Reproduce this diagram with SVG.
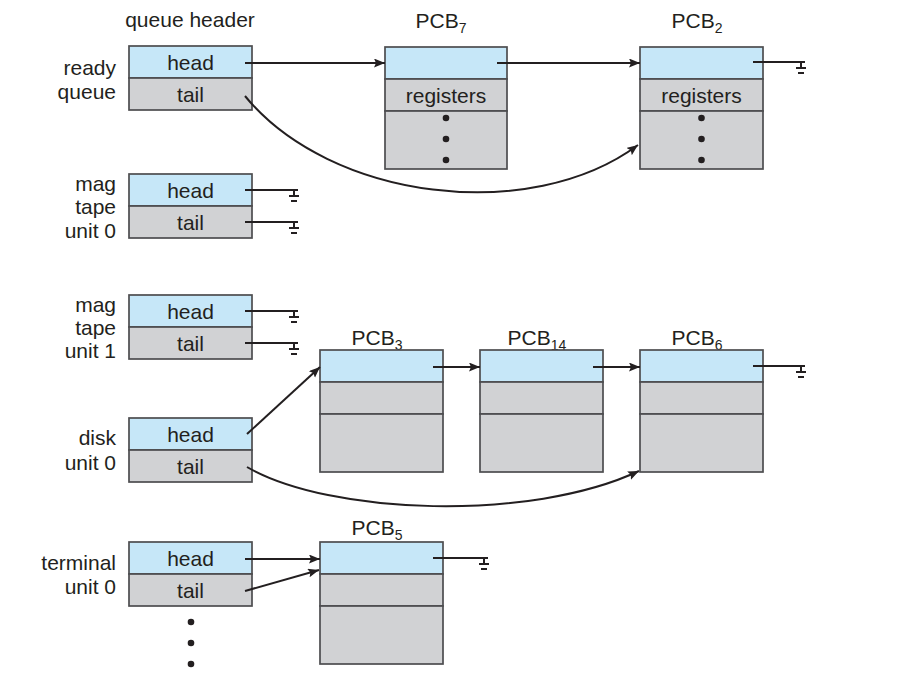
<svg xmlns="http://www.w3.org/2000/svg" xmlns:xlink="http://www.w3.org/1999/xlink" width="907" height="682" viewBox="0 0 907 682">
  <style>
    .txt { font-family: "Liberation Sans", Arial, sans-serif; font-size: 21px; fill: #231f20; }
    .lbl { text-anchor: end; }
    .mid { text-anchor: middle; }
    .sub { font-size: 14px; }
    .blue { fill: #c6e7f8; stroke: #4d4d4f; stroke-width: 1.7; }
    .gray { fill: #d1d2d4; stroke: #4d4d4f; stroke-width: 1.7; }
    .wire { fill: none; stroke: #231f20; stroke-width: 2; }
    .arrow { fill: none; stroke: #231f20; stroke-width: 2; marker-end: url(#ah); }
    .gnd { fill: none; stroke: #231f20; stroke-width: 2; }
    .dot { fill: #231f20; }
  </style>
  <defs>
    <marker id="ah" markerUnits="userSpaceOnUse" markerWidth="12" markerHeight="10" refX="11" refY="4.5" orient="auto">
      <path d="M0,0 L11,4.5 L0,9 L2,4.5 z" fill="#231f20"/>
    </marker>
    <!-- ground terminator: origin is where the wire turns down -->
    <g id="ground" class="gnd">
      <path d="M0,0 v6 M-5,6 h10 M-3,11 h6"/>
    </g>
  </defs>

  <rect width="907" height="682" fill="#ffffff"/>

  <text class="txt mid" x="190" y="27">queue header</text>

  <!-- queue headers -->
  <g id="ready-queue">
    <rect class="blue" x="129" y="46" width="123" height="32"/>
    <rect class="gray" x="129" y="78" width="123" height="32"/>
    <text class="txt mid" x="190.5" y="70">head</text>
    <text class="txt mid" x="190.5" y="102">tail</text>
    <text class="txt lbl" x="116" y="75">ready</text>
    <text class="txt lbl" x="116" y="99">queue</text>
  </g>

  <g id="mag-tape-0">
    <rect class="blue" x="129" y="174" width="123" height="32"/>
    <rect class="gray" x="129" y="206" width="123" height="32"/>
    <text class="txt mid" x="190.5" y="198">head</text>
    <text class="txt mid" x="190.5" y="230">tail</text>
    <text class="txt lbl" x="116" y="191">mag</text>
    <text class="txt lbl" x="116" y="214">tape</text>
    <text class="txt lbl" x="116" y="238">unit 0</text>
  </g>

  <g id="mag-tape-1">
    <rect class="blue" x="129" y="295" width="123" height="32"/>
    <rect class="gray" x="129" y="327" width="123" height="32"/>
    <text class="txt mid" x="190.5" y="319">head</text>
    <text class="txt mid" x="190.5" y="351">tail</text>
    <text class="txt lbl" x="116" y="312">mag</text>
    <text class="txt lbl" x="116" y="335">tape</text>
    <text class="txt lbl" x="116" y="358">unit 1</text>
  </g>

  <g id="disk-unit-0">
    <rect class="blue" x="129" y="418" width="123" height="32"/>
    <rect class="gray" x="129" y="450" width="123" height="32"/>
    <text class="txt mid" x="190.5" y="442">head</text>
    <text class="txt mid" x="190.5" y="474">tail</text>
    <text class="txt lbl" x="116" y="445">disk</text>
    <text class="txt lbl" x="116" y="470">unit 0</text>
  </g>

  <g id="terminal-unit-0">
    <rect class="blue" x="129" y="542" width="123" height="32"/>
    <rect class="gray" x="129" y="574" width="123" height="32"/>
    <text class="txt mid" x="190.5" y="566">head</text>
    <text class="txt mid" x="190.5" y="598">tail</text>
    <text class="txt lbl" x="116" y="570">terminal</text>
    <text class="txt lbl" x="116" y="594">unit 0</text>
    <circle class="dot" cx="191" cy="622" r="3.3"/>
    <circle class="dot" cx="191" cy="643" r="3.3"/>
    <circle class="dot" cx="191" cy="664" r="3.3"/>
  </g>

  <!-- process control blocks -->
  <g id="pcb7">
    <text class="txt mid" x="441" y="28">PCB<tspan class="sub" dy="5">7</tspan></text>
    <rect class="blue" x="385" y="47" width="122" height="32"/>
    <rect class="gray" x="385" y="79" width="122" height="32"/>
    <rect class="gray" x="385" y="111" width="122" height="58"/>
    <text class="txt mid" x="446" y="103">registers</text>
    <circle class="dot" cx="446" cy="118" r="3.3"/>
    <circle class="dot" cx="446" cy="139" r="3.3"/>
    <circle class="dot" cx="446" cy="160" r="3.3"/>
  </g>

  <g id="pcb2">
    <text class="txt mid" x="697" y="28">PCB<tspan class="sub" dy="5">2</tspan></text>
    <rect class="blue" x="640" y="47" width="123" height="32"/>
    <rect class="gray" x="640" y="79" width="123" height="32"/>
    <rect class="gray" x="640" y="111" width="123" height="58"/>
    <text class="txt mid" x="701.5" y="103">registers</text>
    <circle class="dot" cx="701.5" cy="118" r="3.3"/>
    <circle class="dot" cx="701.5" cy="139" r="3.3"/>
    <circle class="dot" cx="701.5" cy="160" r="3.3"/>
  </g>

  <g id="pcb3">
    <text class="txt mid" x="377" y="345">PCB<tspan class="sub" dy="5">3</tspan></text>
    <rect class="blue" x="320" y="350" width="123" height="32"/>
    <rect class="gray" x="320" y="382" width="123" height="32"/>
    <rect class="gray" x="320" y="414" width="123" height="58"/>
  </g>

  <g id="pcb14">
    <text class="txt mid" x="537" y="345">PCB<tspan class="sub" dy="5">14</tspan></text>
    <rect class="blue" x="480" y="350" width="123" height="32"/>
    <rect class="gray" x="480" y="382" width="123" height="32"/>
    <rect class="gray" x="480" y="414" width="123" height="58"/>
  </g>

  <g id="pcb6">
    <text class="txt mid" x="697" y="345">PCB<tspan class="sub" dy="5">6</tspan></text>
    <rect class="blue" x="640" y="350" width="123" height="32"/>
    <rect class="gray" x="640" y="382" width="123" height="32"/>
    <rect class="gray" x="640" y="414" width="123" height="58"/>
  </g>

  <g id="pcb5">
    <text class="txt mid" x="377" y="535">PCB<tspan class="sub" dy="5">5</tspan></text>
    <rect class="blue" x="320" y="542" width="123" height="32"/>
    <rect class="gray" x="320" y="574" width="123" height="32"/>
    <rect class="gray" x="320" y="606" width="123" height="58"/>
  </g>

  <!-- links between headers and PCBs -->
  <g id="connectors">
    <path class="arrow" d="M245,63 H385"/>
    <path class="arrow" d="M497,63 H640"/>
    <path class="arrow" d="M245,96 C330,200 530,225 638,145"/>
    <path class="wire" d="M753,62 H805"/>
    <use xlink:href="#ground" x="801" y="62"/>

    <path class="wire" d="M245,190 H298"/>
    <use xlink:href="#ground" x="294" y="190"/>
    <path class="wire" d="M245,222 H298"/>
    <use xlink:href="#ground" x="294" y="222"/>

    <path class="wire" d="M245,311 H298"/>
    <use xlink:href="#ground" x="294" y="311"/>
    <path class="wire" d="M245,343 H298"/>
    <use xlink:href="#ground" x="294" y="343"/>

    <path class="arrow" d="M247,434 L320,367"/>
    <path class="arrow" d="M433,367 H480"/>
    <path class="arrow" d="M593,367 H640"/>
    <path class="wire" d="M753,366 H805"/>
    <use xlink:href="#ground" x="801" y="366"/>
    <path class="arrow" d="M247,467 C330,515 530,522 639,471"/>

    <path class="arrow" d="M245,559 H320"/>
    <path class="arrow" d="M245,591 L319,570"/>
    <path class="wire" d="M433,558 H488"/>
    <use xlink:href="#ground" x="484" y="558"/>
  </g>
</svg>
